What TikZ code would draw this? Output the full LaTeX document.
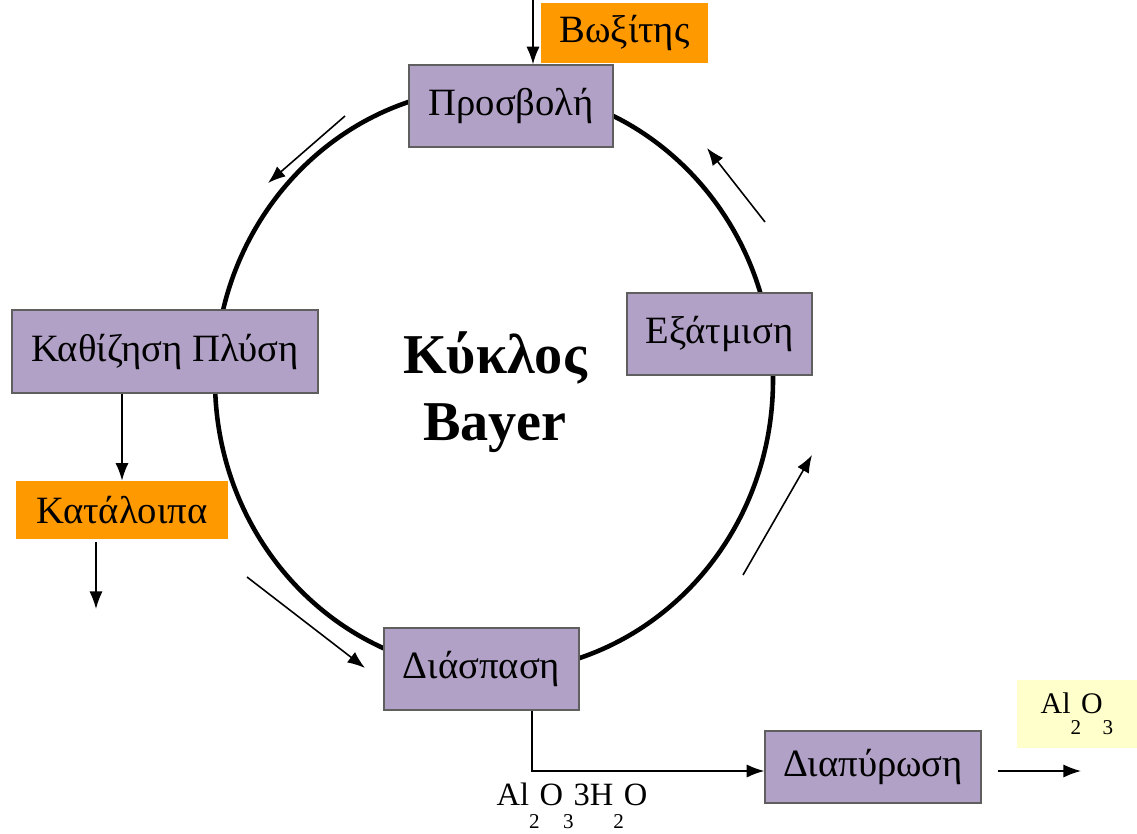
\documentclass[tikz,border=0pt]{standalone}
\usepackage{fontspec}
\setmainfont{Liberation Serif}
\usepackage{xcolor}
\usetikzlibrary{arrows.meta}

\definecolor{stagefill}{RGB}{178,161,199}
\definecolor{stageline}{RGB}{95,95,95}
\definecolor{feedfill}{RGB}{255,153,0}
\definecolor{prodfill}{RGB}{255,255,204}

\newcommand{\lowsub}[1]{\raisebox{-0.7em}{\fontsize{12}{12}\selectfont #1}}

\tikzset{
  stage/.style={draw=stageline, line width=0.8pt, fill=stagefill, inner sep=0pt,
    font=\fontsize{22}{26}\selectfont},
  feed/.style={fill=feedfill, inner sep=0pt, font=\fontsize{22}{26}\selectfont},
  flow/.style={-{Latex[length=10pt,width=7.5pt]}, line width=0.9pt},
}

\begin{document}
\begin{tikzpicture}[x=0.2mm, y=-0.2mm]
\useasboundingbox (0,0) rectangle (1137,834);

% the cycle
\draw [line width=2.6pt] (494,380) ellipse [x radius=279, y radius=292];

\node [stage, minimum width=40.8mm, minimum height=16.4mm] at (511,106) (prosv) {Προσβολή};
\node [feed, minimum width=33.4mm, minimum height=12mm] at (624.5,33) (boxit) {Βωξίτης};
\node [stage, minimum width=61.2mm, minimum height=16.6mm] at (165,351.5) (kath) {Καθίζηση Πλύση};
\node [feed, minimum width=42.4mm, minimum height=11.6mm] at (122,510) (katal) {Κατάλοιπα};
\node [stage, minimum width=37mm, minimum height=16.4mm] at (719.5,334) (exat) {Εξάτμιση};
\node [stage, minimum width=39mm, minimum height=16.4mm] at (481.5,669) (diasp) {Διάσπαση};
\node [stage, minimum width=43.2mm, minimum height=14.4mm] at (873,767) (diap) {Διαπύρωση};
\node [fill=prodfill, inner sep=0pt, minimum width=24mm, minimum height=13.6mm,
  font=\fontsize{17}{20}\selectfont] at (1077,714) (alum) {Al\lowsub{2}O\lowsub{3}};

\node [align=center, font=\bfseries\fontsize{32}{38.5}\selectfont] at (495,392) (title) {Κύκλος\\Bayer};

\node [font=\fontsize{18.5}{20}\selectfont, inner sep=0pt] at (572,806) (hydr)
  {Al\lowsub{2}O\lowsub{3}3H\lowsub{2}O};

\coordinate (feedin) at (533,0);
\coordinate (waste) at (96,609);
\coordinate (bend) at (532,771);
\coordinate (outA) at (998,771);
\coordinate (outB) at (1081,771);

\draw [flow] (feedin) -- (feedin |- prosv.north);
\draw [flow] (katal.north |- kath.south) -- (katal.north);
\draw [flow] ([yshift=-0.6mm]waste |- katal.south) -- (waste);
\draw [flow] (bend |- diasp.south) -- (bend) -- (diap.west |- bend);
\draw [flow] (outA) -- (outB);

% direction of the cycle
\coordinate (c1a) at (345,116);
\coordinate (c1b) at (268,183);
\coordinate (c2a) at (765,222);
\coordinate (c2b) at (707,148);
\coordinate (c3a) at (743,575);
\coordinate (c3b) at (812,455);
\coordinate (c4a) at (247,577);
\coordinate (c4b) at (365,668);

\draw [flow] (c1a) -- (c1b);
\draw [flow] (c2a) -- (c2b);
\draw [flow] (c3a) -- (c3b);
\draw [flow] (c4a) -- (c4b);

\end{tikzpicture}
\end{document}
